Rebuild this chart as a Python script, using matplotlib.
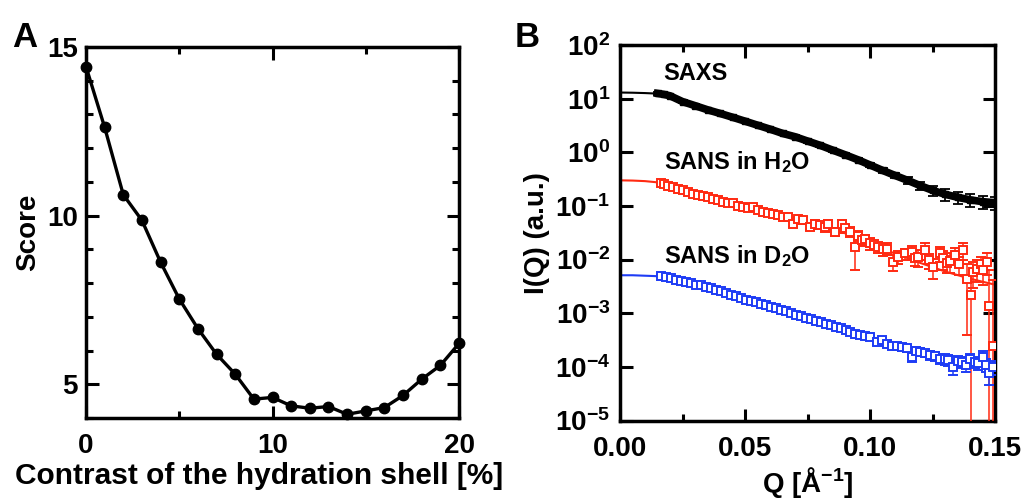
import numpy as np
import matplotlib
matplotlib.use("Agg")
import matplotlib.pyplot as plt
from matplotlib.ticker import MultipleLocator, LogLocator, NullLocator, FormatStrFormatter

plt.rcParams["font.family"] = ["Liberation Sans", "DejaVu Sans"]
plt.rcParams["font.weight"] = "bold"
plt.rcParams["mathtext.fontset"] = "custom"
plt.rcParams["mathtext.rm"] = "Liberation Sans:bold"
plt.rcParams["mathtext.bf"] = "Liberation Sans:bold"
plt.rcParams["mathtext.it"] = "Liberation Sans:bold"
plt.rcParams["mathtext.default"] = "bf"

# panel A: score vs contrast
contrast = [0, 1, 2, 3, 4, 5, 6, 7, 8, 9, 10, 11, 12, 13, 14, 15, 16, 17, 18, 19, 20]
score = [14.42, 12.62, 10.62, 9.86, 8.62, 7.53, 6.65, 5.89, 5.30, 4.56, 4.61,
         4.36, 4.29, 4.34, 4.11, 4.21, 4.31, 4.67, 5.15, 5.56, 6.21]

# panel B: SAXS data
saxs_q = [0.015, 0.0175, 0.02, 0.025, 0.03, 0.035, 0.04, 0.045, 0.05, 0.055,
          0.06, 0.065, 0.07, 0.075, 0.08, 0.085, 0.09, 0.095, 0.10, 0.105,
          0.11, 0.115, 0.12, 0.125, 0.13, 0.135, 0.14, 0.145, 0.15]
saxs_i = [12.5, 12.0, 11.3, 8.8, 7.4, 6.2, 5.3, 4.5, 3.8, 3.2,
          2.7, 2.25, 1.95, 1.62, 1.35, 1.1, 0.9, 0.73, 0.58, 0.46,
          0.37, 0.30, 0.24, 0.195, 0.165, 0.145, 0.13, 0.12, 0.115]
saxs_err = [0.6, 0.6, 0.5, 0.45, 0.4, 0.33, 0.28, 0.24, 0.2, 0.17,
            0.15, 0.13, 0.11, 0.1, 0.09, 0.075, 0.065, 0.055, 0.05, 0.045,
            0.045, 0.042, 0.04, 0.04, 0.04, 0.038, 0.035, 0.033, 0.03]

# SANS in H2O
h2o_q = [0.0165, 0.0175, 0.019, 0.0213, 0.0233, 0.0253, 0.0273, 0.0293, 0.0313,
         0.0333, 0.0353, 0.0373, 0.0393, 0.0413, 0.0433, 0.0453, 0.0473, 0.0493,
         0.0513, 0.0533, 0.0553, 0.0573, 0.0593, 0.0613, 0.0633, 0.0653, 0.0673,
         0.0693, 0.0713, 0.0733, 0.076, 0.078, 0.08, 0.082, 0.0833, 0.086,
         0.0887, 0.09, 0.092, 0.094, 0.0953, 0.0967, 0.098, 0.1, 0.1017, 0.1033,
         0.105, 0.1067, 0.1093, 0.1113, 0.114, 0.1167, 0.118, 0.1193, 0.122,
         0.1237, 0.1253, 0.128, 0.1293, 0.1307, 0.132, 0.134, 0.1355, 0.137,
         0.1387, 0.1403, 0.1413, 0.1427, 0.1445, 0.1453, 0.1467, 0.1477, 0.1493]
h2o_i = [0.27, 0.254, 0.24, 0.226, 0.21, 0.196, 0.18, 0.17, 0.16,
         0.152, 0.145, 0.137, 0.127, 0.119, 0.115, 0.111, 0.10, 0.096,
         0.09, 0.096, 0.085, 0.077, 0.075, 0.072, 0.067, 0.062, 0.0625,
         0.047, 0.056, 0.054, 0.041, 0.047, 0.044, 0.040, 0.047, 0.033,
         0.047, 0.038, 0.033, 0.0173, 0.028, 0.023, 0.024, 0.020, 0.019, 0.0173,
         0.0155, 0.016, 0.0091, 0.0112, 0.013, 0.0139, 0.0105, 0.0112, 0.015,
         0.0098, 0.0073, 0.013, 0.0105, 0.0085, 0.0095, 0.0121, 0.0082, 0.015,
         0.0044, 0.0022, 0.0059, 0.0068, 0.0084, 0.0063, 0.0091, 0.00135, 0.00024]
h2o_err = [0.012, 0.012, 0.011, 0.01, 0.01, 0.009, 0.009, 0.008, 0.008,
           0.008, 0.007, 0.007, 0.007, 0.007, 0.007, 0.006, 0.006, 0.006,
           0.006, 0.007, 0.006, 0.006, 0.006, 0.006, 0.006, 0.006, 0.007,
           0.006, 0.007, 0.007, 0.006, 0.008, 0.007, 0.007, 0.008, 0.006,
           0.008, 0.007, 0.007, 0.011, 0.006, 0.005, 0.005, 0.005, 0.004, 0.004,
           0.004, 0.004, 0.003, 0.003, 0.003, 0.004, 0.003, 0.004, 0.005,
           0.003, 0.003, 0.004, 0.004, 0.003, 0.004, 0.004, 0.003, 0.005,
           0.004, 0.0028, 0.003, 0.003, 0.003, 0.003, 0.004, 0.005, 0.004]

# SANS in D2O
d2o_q = [0.0165, 0.0185, 0.0205, 0.0225, 0.0245, 0.0265, 0.0285, 0.0305, 0.0325,
         0.0345, 0.0365, 0.0385, 0.0405, 0.0425, 0.0445, 0.0465, 0.0485, 0.0505,
         0.0525, 0.0545, 0.0565, 0.0585, 0.0605, 0.0625, 0.0645, 0.0665, 0.0685,
         0.0705, 0.0725, 0.0745, 0.0765, 0.0785, 0.0805, 0.0825, 0.0845, 0.0865,
         0.0885, 0.0905, 0.092, 0.094, 0.096, 0.098, 0.1, 0.1027, 0.1047, 0.1067,
         0.1087, 0.1107, 0.1127, 0.1147, 0.1167, 0.1185, 0.12, 0.122, 0.124,
         0.126, 0.128, 0.13, 0.1313, 0.1333, 0.135, 0.1367, 0.1385, 0.14, 0.142,
         0.1433, 0.1453, 0.1465, 0.1477, 0.1493]
d2o_i = [0.0049, 0.0047, 0.0045, 0.0042, 0.0040, 0.0038, 0.0036, 0.0034, 0.0033,
         0.0031, 0.0029, 0.0027, 0.0026, 0.0024, 0.0022, 0.0021, 0.0019, 0.0018,
         0.0017, 0.0016, 0.0015, 0.0014, 0.00133, 0.00125, 0.00117, 0.00108, 0.00099,
         0.00094, 0.00087, 0.00082, 0.00077, 0.00072, 0.0007, 0.00064, 0.0006, 0.00056,
         0.00052, 0.00048, 0.00045, 0.00041, 0.00039, 0.00038, 0.00036, 0.00029, 0.00031,
         0.00027, 0.00025, 0.00024, 0.00023, 0.00022, 0.000154, 0.0002, 0.00019, 0.00018,
         0.000165, 0.00016, 0.000143, 0.00014, 0.000133, 0.0001, 0.00013, 0.000124,
         0.00011, 0.000143, 0.000125, 0.000116, 0.000154, 0.00011, 0.0000753, 0.0001]
d2o_err = [0.0002, 0.0002, 0.0002, 0.0002, 0.00018, 0.00017, 0.00016, 0.00015, 0.00014,
           0.00013, 0.00012, 0.00011, 0.0001, 0.0001, 0.00009, 0.00009, 0.00008, 0.00008,
           0.00007, 0.00007, 0.00006, 0.00006, 0.00006, 0.00005, 0.00005, 0.00005, 0.00005,
           0.00004, 0.00004, 0.00004, 0.00004, 0.00004, 0.00004, 0.00004, 0.00004, 0.00004,
           0.00004, 0.00003, 0.00003, 0.00003, 0.00003, 0.00003, 0.00003, 0.00003, 0.00003,
           0.00003, 0.00003, 0.00003, 0.00003, 0.00003, 0.00003, 0.00003, 0.00003, 0.00003,
           0.00003, 0.00003, 0.00003, 0.00003, 0.00003, 0.00003, 0.00003, 0.00003,
           0.00003, 0.00003, 0.00003, 0.00003, 0.00004, 0.00003, 0.00003, 0.00003]

# fitted curves
fit_q = [0.0, 0.005, 0.01, 0.015, 0.02, 0.03, 0.04, 0.05, 0.06, 0.07, 0.08,
         0.09, 0.10, 0.11, 0.12, 0.13, 0.14, 0.15]
fit_saxs = [13.0, 12.9, 12.7, 12.4, 11.4, 7.6, 5.3, 3.8, 2.7, 1.95, 1.35,
            0.9, 0.58, 0.37, 0.24, 0.165, 0.13, 0.115]
fit_h2o = [0.30, 0.297, 0.29, 0.275, 0.24, 0.165, 0.125, 0.094, 0.072, 0.055,
           0.042, 0.031, 0.019, 0.013, 0.0087, 0.0060, 0.0044, 0.0034]
fit_d2o = [0.0051, 0.0051, 0.0050, 0.0049, 0.0045, 0.0034, 0.0026, 0.0019,
           0.00135, 0.00097, 0.00071, 0.0005, 0.00036, 0.00025, 0.00019,
           0.00014, 0.00012, 0.000105]

RED = "#ff2a12"
BLUE = "#1e3cf5"

fig = plt.figure(figsize=(10.26, 5.0), dpi=100)
ax1 = fig.add_axes([0.0838, 0.164, 0.3636, 0.742])
ax2 = fig.add_axes([0.6043, 0.159, 0.3655, 0.751])


def style_axes(ax):
    for sp in ax.spines.values():
        sp.set_linewidth(2.5)
    ax.tick_params(which="both", direction="in", top=True, right=True,
                   width=2.2, labelsize=20)
    ax.tick_params(which="major", length=9)
    ax.tick_params(which="minor", length=5)
    ax.tick_params(axis="x", pad=11)


# panel A
ax1.plot(contrast, score, "-o", color="black", lw=2.4, ms=7.5, zorder=3,
         clip_on=False)
ax1.set_xlim(0, 20)
ax1.set_ylim(4.0, 15)
ax1.xaxis.set_major_locator(MultipleLocator(10))
ax1.xaxis.set_minor_locator(MultipleLocator(5))
ax1.yaxis.set_major_locator(MultipleLocator(5))
ax1.yaxis.set_minor_locator(MultipleLocator(1))
style_axes(ax1)
ax1.tick_params(axis="y", pad=6)
ax1.set_xlabel("Contrast of the hydration shell [%]", fontsize=21.5,
               fontweight="bold", labelpad=2)
# the label in the figure sits a bit left of the axes centre
ax1.xaxis.label.set_x(0.465)
ax1.set_ylabel("Score", fontsize=20, fontweight="bold", labelpad=4)
fig.text(0.012, 0.906, "A", fontsize=25, fontweight="bold", va="baseline")

# panel B
ax2.set_yscale("log")
ax2.plot(fit_q, fit_saxs, color="black", lw=1.5, zorder=2)
ax2.plot(fit_q, fit_h2o, color=RED, lw=1.5, zorder=2)
ax2.plot(fit_q, fit_d2o, color=BLUE, lw=1.5, zorder=2)

ax2.plot(saxs_q, saxs_i, color="black", lw=5.5, zorder=3)
ax2.errorbar(saxs_q, saxs_i, yerr=saxs_err, fmt="s", color="black", ms=4.5,
             elinewidth=1.3, capsize=3.5, capthick=1.3, zorder=3)
ax2.errorbar(h2o_q, h2o_i, yerr=h2o_err, fmt="s", mfc="white", mec=RED,
             color=RED, ms=5.5, mew=1.4, elinewidth=1.1, capsize=3.5,
             capthick=1.1, zorder=4)
ax2.errorbar(d2o_q, d2o_i, yerr=d2o_err, fmt="s", mfc="white", mec=BLUE,
             color=BLUE, ms=5.5, mew=1.4, elinewidth=1.1, capsize=3.5,
             capthick=1.1, zorder=4)

ax2.set_xlim(0, 0.15)
ax2.set_ylim(1e-5, 1e2)
ax2.xaxis.set_major_locator(MultipleLocator(0.05))
ax2.xaxis.set_minor_locator(MultipleLocator(0.025))
ax2.xaxis.set_major_formatter(FormatStrFormatter("%.2f"))
ax2.yaxis.set_major_locator(LogLocator(base=10, numticks=20))
ax2.yaxis.set_minor_locator(NullLocator())
style_axes(ax2)
ax2.tick_params(axis="y", pad=7)
ax2.set_xlabel(r"Q [Å$^{-1}$]", fontsize=20, fontweight="bold", labelpad=2)
ax2.set_ylabel("I(Q) (a.u.)", fontsize=20, fontweight="bold", labelpad=4)

ax2.text(0.0175, 18, "SAXS", fontsize=17, fontweight="bold", va="bottom")
ax2.text(0.0175, 0.37, r"SANS in H$_2$O", fontsize=17, fontweight="bold",
         va="bottom")
ax2.text(0.0175, 0.0066, r"SANS in D$_2$O", fontsize=17, fontweight="bold",
         va="bottom")
fig.text(0.502, 0.906, "B", fontsize=25, fontweight="bold", va="baseline")

fig.savefig("out.png", dpi=100)
